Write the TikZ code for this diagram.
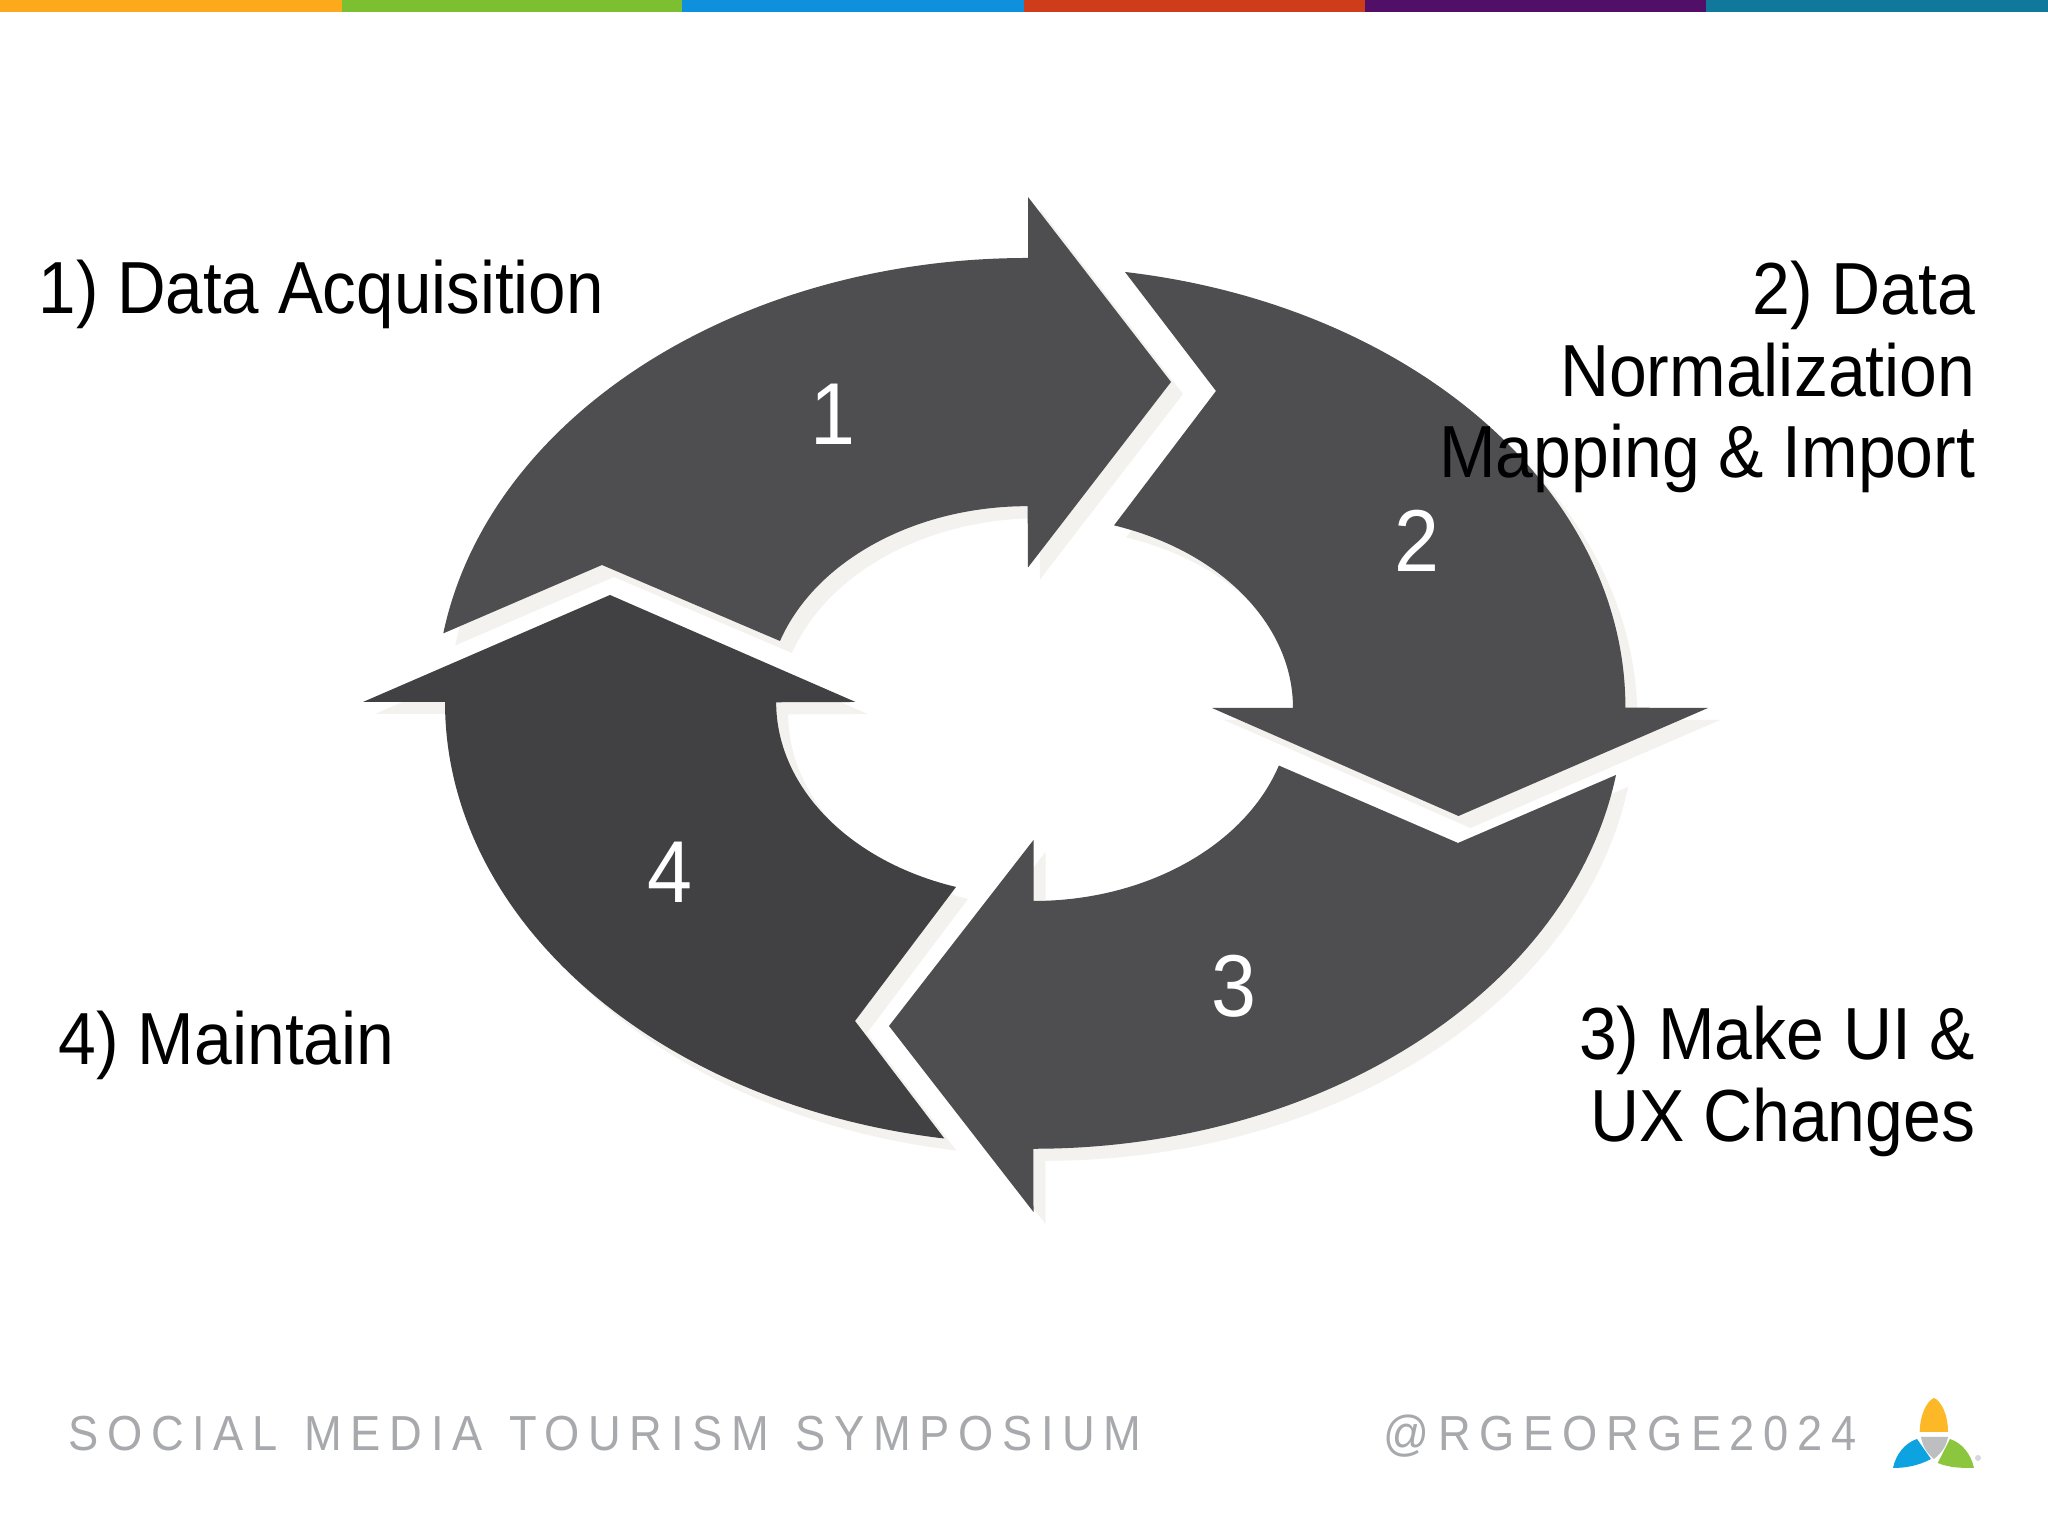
\documentclass[tikz,border=0pt]{standalone}
\usepackage{fontspec}
\usepackage{xcolor}
\setmainfont{Liberation Sans}
\newfontfamily\stepfont[FakeStretch=0.92]{Liberation Sans}
\newfontfamily\acqfont[FakeStretch=0.912]{Liberation Sans}
\newfontfamily\footfont[LetterSpace=17.5,FakeStretch=0.92,WordSpace=1.27]{Liberation Sans}
\definecolor{arrowgray}{HTML}{4E4D50}
\definecolor{arrowdark}{HTML}{414042}
\definecolor{shadowgray}{HTML}{F3F2EE}
\definecolor{footgray}{HTML}{A7A9AC}
\definecolor{barorange}{HTML}{FDA91C}
\definecolor{bargreen}{HTML}{7CC031}
\definecolor{barblue}{HTML}{0F90DC}
\definecolor{barred}{HTML}{CE3C1A}
\definecolor{barpurple}{HTML}{510F68}
\definecolor{barteal}{HTML}{10789B}
\definecolor{logoorange}{HTML}{FDB827}
\definecolor{logoblue}{HTML}{0DA2E0}
\definecolor{logogreen}{HTML}{8CC63F}
\definecolor{logogray}{HTML}{BCBEC0}
\newcommand{\arrowone}{(10.28,12.78) arc[start angle=90,end angle=171,x radius=5.92,y radius=4.45] -- (6.02,9.71) -- (7.80,8.95) arc[start angle=161.6,end angle=90,x radius=2.61,y radius=1.97] -- (10.28,9.685) -- (11.71,11.54) -- (10.28,13.39) -- cycle}
\newcommand{\arrowtwo}{(11.25,12.64) arc[start angle=81.1,end angle=0,x radius=5.92,y radius=4.41] -- (17.08,8.28) -- (14.585,7.20) -- (12.12,8.28) -- (12.93,8.28) arc[start angle=0,end angle=72,x radius=2.59,y radius=1.92] -- (12.16,11.45) -- cycle}
\newcommand{\arrowthree}{(16.16,7.61) arc[start angle=-9.1,end angle=-90,x radius=5.90,y radius=4.44] -- (10.335,3.24) -- (8.89,5.10) -- (10.335,6.96) -- (10.335,6.35) arc[start angle=-90,end angle=-18,x radius=2.58,y radius=1.96] -- (14.58,6.93) -- cycle}
\newcommand{\arrowfour}{(4.45,8.34) arc[start angle=180,end angle=261,x radius=5.92,y radius=4.42] -- (8.55,5.15) -- (9.56,6.49) arc[start angle=252.2,end angle=180,x radius=2.59,y radius=1.94] -- (8.555,8.34) -- (6.10,9.41) -- (3.63,8.34) -- cycle}
\tikzset{
  steptext/.style={font=\fontsize{21}{23.3}\stepfont, text=black, inner sep=0pt},
  stepnum/.style={font=\fontsize{25}{28}\stepfont, text=white, inner sep=0pt},
  foottext/.style={font=\fontsize{14}{16}\footfont, text=footgray, inner sep=0pt, anchor=base west}
}
\begin{document}
\begin{tikzpicture}
\useasboundingbox (0,0) rectangle (20.48,15.36);
\fill[white] (0,0) rectangle (20.48,15.36);
\fill[barorange] (0,15.24) rectangle (3.42,15.36);
\fill[bargreen] (3.42,15.24) rectangle (6.82,15.36);
\fill[barblue] (6.82,15.24) rectangle (10.24,15.36);
\fill[barred] (10.24,15.24) rectangle (13.65,15.36);
\fill[barpurple] (13.65,15.24) rectangle (17.06,15.36);
\fill[barteal] (17.06,15.24) rectangle (20.48,15.36);
\begin{scope}[shift={(0.12,-0.12)}]
\fill[shadowgray] \arrowone;
\fill[shadowgray] \arrowtwo;
\fill[shadowgray] \arrowthree;
\fill[shadowgray] \arrowfour;
\end{scope}
\fill[arrowgray] \arrowone;
\fill[arrowgray] \arrowtwo;
\fill[arrowgray] \arrowthree;
\fill[arrowdark] \arrowfour;
\node[stepnum] (numone) at (8.33,11.22) {1};
\node[stepnum] (numtwo) at (14.17,9.95) {2};
\node[stepnum] (numthree) at (12.34,5.50) {3};
\node[stepnum] (numfour) at (6.70,6.64) {4};
\node[steptext, anchor=base west, font=\fontsize{21}{23.3}\acqfont] (acquire) at (0.38,12.22) {1) Data Acquisition};
\node[steptext, anchor=north east, align=right] (normalize) at (19.76,12.76) {2) Data\\Normalization\\Mapping \& Import};
\node[steptext, anchor=north east, align=right] (uxchange) at (19.76,5.31) {3) Make UI \&\\UX Changes};
\node[steptext, anchor=base west] (maintain) at (0.58,4.71) {4) Maintain};
\node[foottext] (symposium) at (0.68,0.85) {SOCIAL MEDIA TOURISM SYMPOSIUM};
\node[foottext] (handle) at (13.83,0.85) {@RGEORGE2024};
\fill[logoorange] (19.197,1.04) .. controls (19.20,1.22) and (19.27,1.35) .. (19.34,1.38) .. controls (19.41,1.35) and (19.48,1.22) .. (19.48,1.04) -- cycle;
\fill[logoblue] (19.17,0.97) -- (19.31,0.77) .. controls (19.18,0.70) and (19.05,0.68) .. (18.93,0.68) .. controls (18.96,0.82) and (19.05,0.93) .. (19.17,0.97) -- cycle;
\fill[logogreen] (19.50,0.97) -- (19.377,0.73) .. controls (19.50,0.68) and (19.62,0.68) .. (19.74,0.68) .. controls (19.71,0.82) and (19.62,0.93) .. (19.50,0.97) -- cycle;
\fill[logogray] (19.21,0.99) -- (19.48,0.99) .. controls (19.46,0.88) and (19.40,0.82) .. (19.34,0.77) .. controls (19.28,0.82) and (19.23,0.88) .. (19.21,0.99) -- cycle;
\fill[logogray!60] (19.78,0.78) circle (0.03);
\end{tikzpicture}
\end{document}
